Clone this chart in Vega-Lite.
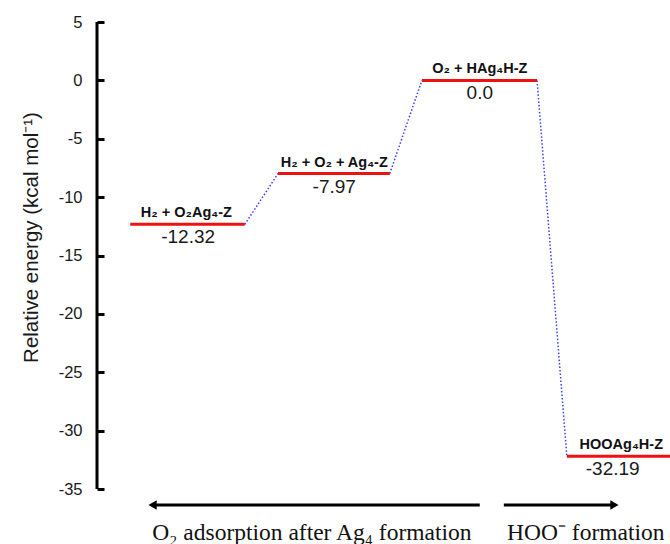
{
  "$schema": "https://vega.github.io/schema/vega-lite/v6.json",
  "width": 573,
  "height": 544,
  "autosize": {"type": "none"},
  "padding": {"left": 97, "top": 0, "right": 0, "bottom": 0},
  "config": {"view": {"stroke": null}, "font": "Liberation Sans"},
  "datasets": {
    "levels": [
      {"x": 0.58, "x2": 2.58, "e": -12.32},
      {"x": 3.16, "x2": 5.11, "e": -7.97},
      {"x": 5.67, "x2": 7.68, "e": 0.0},
      {"x": 8.2, "x2": 10.6, "e": -32.19}
    ],
    "names": [
      {"x": 1.56, "e": -12.32, "t": "H₂ + O₂Ag₄-Z"},
      {"x": 4.14, "e": -7.97, "t": "H₂ + O₂ + Ag₄-Z"},
      {"x": 6.68, "e": 0.0, "t": "O₂ + HAg₄H-Z"},
      {"x": 9.15, "e": -32.19, "t": "HOOAg₄H-Z"}
    ],
    "vals": [
      {"x": 1.59, "e": -12.32, "t": "-12.32"},
      {"x": 4.14, "e": -7.97, "t": "-7.97"},
      {"x": 6.68, "e": 0.0, "t": "0.0"},
      {"x": 9.0, "e": -32.19, "t": "-32.19"}
    ],
    "links": [
      {"seg": 1, "x": 2.58, "e": -12.32},
      {"seg": 1, "x": 3.16, "e": -7.97},
      {"seg": 2, "x": 5.11, "e": -7.97},
      {"seg": 2, "x": 5.67, "e": 0.0},
      {"seg": 3, "x": 7.68, "e": 0.0},
      {"seg": 3, "x": 8.2, "e": -32.19}
    ],
    "axisline": [{"x": 0, "e": -35, "e2": 5}],
    "arrows": [
      {"x": 0.97, "x2": 6.68, "e": -36.37},
      {"x": 7.1, "x2": 9.03, "e": -36.37}
    ],
    "headsL": [{"x": 0.97, "e": -36.37}],
    "headsR": [{"x": 9.03, "e": -36.37}],
    "captions": [
      {"x": 3.75, "e": -39.37, "t": "O₂ adsorption after Ag₄ formation"},
      {"x": 8.53, "e": -39.37, "t": "HOO⁻ formation"}
    ]
  },
  "encoding": {
    "x": {"field": "x", "type": "quantitative", "scale": {"domain": [0, 10], "nice": false, "zero": false}, "axis": null},
    "y": {
      "field": "e",
      "type": "quantitative",
      "scale": {"domain": [-39.7, 6.89], "nice": false, "zero": false},
      "axis": {
        "domain": false,
        "grid": false,
        "values": [5, 0, -5, -10, -15, -20, -25, -30, -35],
        "labelExpr": "datum.value < 0 ? '-' + abs(datum.value) : '' + datum.value",
        "tickSize": -7,
        "tickWidth": 3,
        "tickColor": "black",
        "labelPadding": 22,
        "labelFontSize": 16.5,
        "labelColor": "#1a1a1a",
        "labelFont": "Liberation Sans",
        "title": "Relative energy (kcal mol⁻¹)",
        "titleFont": "Liberation Sans",
        "titleFontSize": 20.5,
        "titleFontWeight": "normal",
        "titleColor": "#1a1a1a",
        "titleAngle": -90,
        "titleAlign": "center",
        "titleBaseline": "alphabetic",
        "titleX": -60,
        "titleY": 237
      }
    }
  },
  "layer": [
    {
      "data": {"name": "axisline"},
      "mark": {"type": "rule", "color": "black", "strokeWidth": 3},
      "encoding": {"y2": {"field": "e2"}}
    },
    {
      "data": {"name": "links"},
      "mark": {"type": "line", "color": "#3d3dff", "strokeWidth": 1.5, "strokeDash": [1.5, 2]},
      "encoding": {"detail": {"field": "seg"}}
    },
    {
      "data": {"name": "levels"},
      "mark": {"type": "rule", "color": "#ee1111", "strokeWidth": 3, "clip": true},
      "encoding": {"x2": {"field": "x2"}}
    },
    {
      "data": {"name": "names"},
      "mark": {"type": "text", "font": "Liberation Sans", "fontWeight": "bold", "fontSize": 14.5, "baseline": "alphabetic", "dy": -7, "color": "#111111", "clip": true},
      "encoding": {"text": {"field": "t"}}
    },
    {
      "data": {"name": "vals"},
      "mark": {"type": "text", "fontSize": 19, "baseline": "top", "dy": 4, "color": "#1a1a1a"},
      "encoding": {"text": {"field": "t"}}
    },
    {
      "data": {"name": "arrows"},
      "mark": {"type": "rule", "color": "black", "strokeWidth": 3},
      "encoding": {"x2": {"field": "x2"}}
    },
    {
      "data": {"name": "headsL"},
      "mark": {"type": "point", "shape": "triangle-left", "filled": true, "color": "black", "size": 90, "opacity": 1},
      "encoding": {}
    },
    {
      "data": {"name": "headsR"},
      "mark": {"type": "point", "shape": "triangle-right", "filled": true, "color": "black", "size": 90, "opacity": 1},
      "encoding": {}
    },
    {
      "data": {"name": "captions"},
      "mark": {"type": "text", "font": "Liberation Serif", "fontSize": 23.5, "baseline": "alphabetic", "color": "#111111"},
      "encoding": {"text": {"field": "t"}}
    }
  ]
}
